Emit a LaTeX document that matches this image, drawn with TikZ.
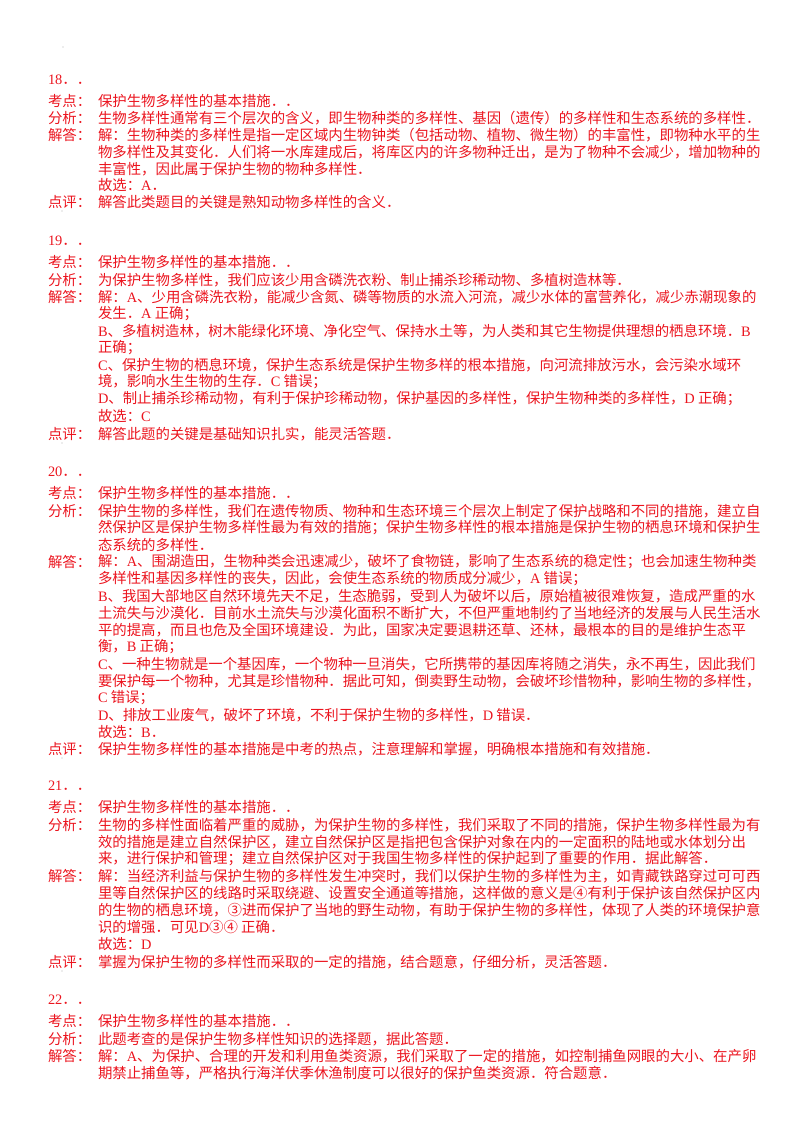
\documentclass[tikz,border=0pt]{standalone}
\usepackage{fontspec}
\setmainfont{Noto Sans CJK SC}
\newfontfamily\latf{Liberation Serif}
\newcommand\lat[1]{{\latf #1}}
\definecolor{txtred}{RGB}{235,20,30}
\begin{document}
\begin{tikzpicture}[x=1pt,y=-1pt,
  every node/.style={inner sep=0pt,outer sep=0pt,anchor=west,text=txtred,font=\fontsize{14.4}{17}\selectfont},
  lab/.style={},
  body/.style={}]
\useasboundingbox (0,0) rectangle (800,1132);
\fill[gray!60] (63,47) circle (0.6);
% ---------- 18
\node[lab] (n18) at (48,80) {\lat{18}．．};
\node[lab] (k18) at (48,101) {考点：};
\node[body] (k18t) at (98,101) {保护生物多样性的基本措施．．};
\node[lab] (f18) at (48,118) {分析：};
\node[body] (f18t) at (98,118) {生物多样性通常有三个层次的含义，即生物种类的多样性、基因（遗传）的多样性和生态系统的多样性．};
\node[lab] (j18) at (48,135) {解答：};
\node[body] (j18a) at (98,135) {解：生物种类的多样性是指一定区域内生物钟类（包括动物、植物、微生物）的丰富性，即物种水平的生};
\node[body] (j18b) at (98,152) {物多样性及其变化．人们将一水库建成后，将库区内的许多物种迁出，是为了物种不会减少，增加物种的};
\node[body] (j18c) at (98,169) {丰富性，因此属于保护生物的物种多样性．};
\node[body] (j18d) at (98,185) {故选：\lat{A}．};
\node[lab] (d18) at (48,202) {点评：};
\node[body] (d18t) at (98,202) {解答此类题目的关键是熟知动物多样性的含义．};
\fill[gray!60] (62,211) circle (0.6);
% ---------- 19
\node[lab] (n19) at (48,241) {\lat{19}．．};
\node[lab] (k19) at (48,262) {考点：};
\node[body] (k19t) at (98,262) {保护生物多样性的基本措施．．};
\node[lab] (f19) at (48,280) {分析：};
\node[body] (f19t) at (98,280) {为保护生物多样性，我们应该少用含磷洗衣粉、制止捕杀珍稀动物、多植树造林等．};
\node[lab] (j19) at (48,297) {解答：};
\node[body] (j19a) at (98,297) {解：\lat{A}、少用含磷洗衣粉，能减少含氮、磷等物质的水流入河流，减少水体的富营养化，减少赤潮现象的};
\node[body] (j19b) at (98,314) {发生．\lat{A} 正确；};
\node[body] (j19c) at (98,331) {\lat{B}、多植树造林，树木能绿化环境、净化空气、保持水土等，为人类和其它生物提供理想的栖息环境．\lat{B}};
\node[body] (j19d) at (98,348) {正确；};
\node[body] (j19e) at (98,365) {\lat{C}、保护生物的栖息环境，保护生态系统是保护生物多样的根本措施，向河流排放污水，会污染水域环};
\node[body] (j19f) at (98,382) {境，影响水生生物的生存．\lat{C} 错误；};
\node[body] (j19g) at (98,399) {\lat{D}、制止捕杀珍稀动物，有利于保护珍稀动物，保护基因的多样性，保护生物种类的多样性，\lat{D} 正确；};
\node[body] (j19h) at (98,416) {故选：\lat{C}};
\node[lab] (d19) at (48,434) {点评：};
\node[body] (d19t) at (98,434) {解答此题的关键是基础知识扎实，能灵活答题．};
\fill[gray!60] (62,443) circle (0.6);
% ---------- 20
\node[lab] (n20) at (48,472) {\lat{20}．．};
\node[lab] (k20) at (48,493) {考点：};
\node[body] (k20t) at (98,493) {保护生物多样性的基本措施．．};
\node[lab] (f20) at (48,511) {分析：};
\node[body] (f20a) at (98,511) {保护生物的多样性，我们在遗传物质、物种和生态环境三个层次上制定了保护战略和不同的措施，建立自};
\node[body] (f20b) at (98,528) {然保护区是保护生物多样性最为有效的措施；保护生物多样性的根本措施是保护生物的栖息环境和保护生};
\node[body] (f20c) at (98,545) {态系统的多样性．};
\node[lab] (j20) at (48,562) {解答：};
\node[body] (j20a) at (98,562) {解：\lat{A}、围湖造田，生物种类会迅速减少，破坏了食物链，影响了生态系统的稳定性；也会加速生物种类};
\node[body] (j20b) at (98,579) {多样性和基因多样性的丧失，因此，会使生态系统的物质成分减少，\lat{A} 错误；};
\node[body] (j20c) at (98,596) {\lat{B}、我国大部地区自然环境先天不足，生态脆弱，受到人为破坏以后，原始植被很难恢复，造成严重的水};
\node[body] (j20d) at (98,613) {土流失与沙漠化．目前水土流失与沙漠化面积不断扩大，不但严重地制约了当地经济的发展与人民生活水};
\node[body] (j20e) at (98,630) {平的提高，而且也危及全国环境建设．为此，国家决定要退耕还草、还林，最根本的目的是维护生态平};
\node[body] (j20f) at (98,647) {衡，\lat{B} 正确；};
\node[body] (j20g) at (98,664) {\lat{C}、一种生物就是一个基因库，一个物种一旦消失，它所携带的基因库将随之消失，永不再生，因此我们};
\node[body] (j20h) at (98,681) {要保护每一个物种，尤其是珍惜物种．据此可知，倒卖野生动物，会破坏珍惜物种，影响生物的多样性，};
\node[body] (j20i) at (98,698) {\lat{C} 错误；};
\node[body] (j20j) at (98,715) {\lat{D}、排放工业废气，破坏了环境，不利于保护生物的多样性，\lat{D} 错误．};
\node[body] (j20k) at (98,732) {故选：\lat{B}．};
\node[lab] (d20) at (48,749) {点评：};
\node[body] (d20t) at (98,749) {保护生物多样性的基本措施是中考的热点，注意理解和掌握，明确根本措施和有效措施．};
\fill[gray!60] (62,758) circle (0.6);
% ---------- 21
\node[lab] (n21) at (48,786) {\lat{21}．．};
\node[lab] (k21) at (48,807) {考点：};
\node[body] (k21t) at (98,807) {保护生物多样性的基本措施．．};
\node[lab] (f21) at (48,825) {分析：};
\node[body] (f21a) at (98,825) {生物的多样性面临着严重的威胁，为保护生物的多样性，我们采取了不同的措施，保护生物多样性最为有};
\node[body] (f21b) at (98,842) {效的措施是建立自然保护区，建立自然保护区是指把包含保护对象在内的一定面积的陆地或水体划分出};
\node[body] (f21c) at (98,859) {来，进行保护和管理；建立自然保护区对于我国生物多样性的保护起到了重要的作用．据此解答．};
\node[lab] (j21) at (48,876) {解答：};
\node[body] (j21a) at (98,876) {解：当经济利益与保护生物的多样性发生冲突时，我们以保护生物的多样性为主，如青藏铁路穿过可可西};
\node[body] (j21b) at (98,893) {里等自然保护区的线路时采取绕避、设置安全通道等措施，这样做的意义是④有利于保护该自然保护区内};
\node[body] (j21c) at (98,910) {的生物的栖息环境，③进而保护了当地的野生动物，有助于保护生物的多样性，体现了人类的环境保护意};
\node[body] (j21d) at (98,927) {识的增强．可见\lat{D}③④ 正确．};
\node[body] (j21e) at (98,944) {故选：\lat{D}};
\node[lab] (d21) at (48,962) {点评：};
\node[body] (d21t) at (98,962) {掌握为保护生物的多样性而采取的一定的措施，结合题意，仔细分析，灵活答题．};
\fill[gray!60] (62,971) circle (0.6);
% ---------- 22
\node[lab] (n22) at (48,1000) {\lat{22}．．};
\node[lab] (k22) at (48,1021) {考点：};
\node[body] (k22t) at (98,1021) {保护生物多样性的基本措施．．};
\node[lab] (f22) at (48,1039) {分析：};
\node[body] (f22t) at (98,1039) {此题考查的是保护生物多样性知识的选择题，据此答题．};
\node[lab] (j22) at (48,1056) {解答：};
\node[body] (j22a) at (98,1056) {解：\lat{A}、为保护、合理的开发和利用鱼类资源，我们采取了一定的措施，如控制捕鱼网眼的大小、在产卵};
\node[body] (j22b) at (98,1073) {期禁止捕鱼等，严格执行海洋伏季休渔制度可以很好的保护鱼类资源．符合题意．};
\end{tikzpicture}
\end{document}
